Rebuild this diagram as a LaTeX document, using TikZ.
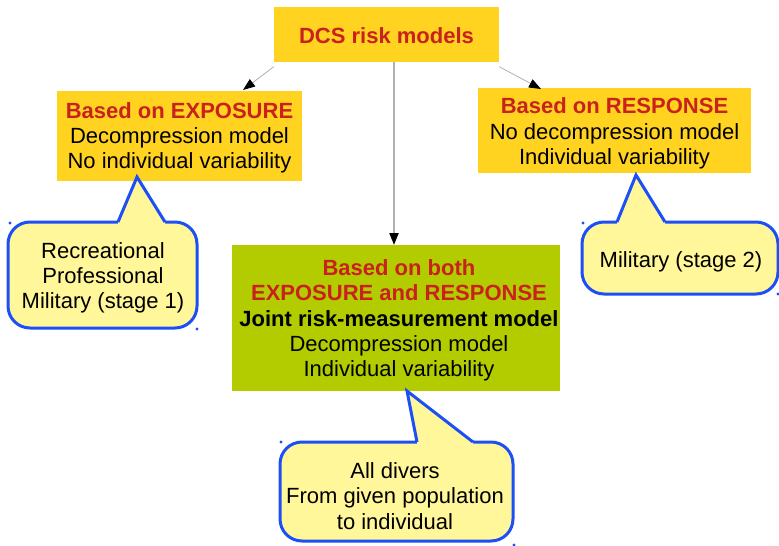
\documentclass[tikz,border=0pt]{standalone}
\usepackage{fontspec}
\setmainfont{Liberation Sans}
\usetikzlibrary{arrows.meta}
\definecolor{boxyellow}{HTML}{FFD320}
\definecolor{boxgreen}{HTML}{B3CC00}
\definecolor{darkred}{HTML}{C9211E}
\definecolor{callfill}{HTML}{FFF799}
\definecolor{callblue}{HTML}{1C4FF5}
\definecolor{conngray}{HTML}{B0B0B0}
\begin{document}
\begin{tikzpicture}[x=1pt,y=-1pt,
  txt/.style={font=\fontsize{22}{25.2}\selectfont, align=center, inner sep=0pt},
  ybox/.style={fill=boxyellow, draw=none, inner sep=0pt},
  gbox/.style={fill=boxgreen, draw=none, inner sep=0pt},
  conn/.style={draw=conngray, line width=0.8pt, -{Triangle[length=12pt,width=9pt,color=black]}},
  cbody/.style={fill=callfill, draw=callblue, line width=3pt, rounded corners=22pt},
  cedge/.style={draw=callblue, line width=3pt, line join=miter},
  handle/.style={fill=callblue}
]
\useasboundingbox (0,0) rectangle (779,546);

% boxes
\node[ybox, minimum width=225pt, minimum height=55pt] (top) at (386.5,34) {};
\node[txt] (toptxt) at ([yshift=-1.5pt]top.center)
  {\textcolor{darkred}{\bfseries DCS risk models}};
\node[ybox, minimum width=245pt, minimum height=90pt] (left) at (179.5,135.5) {};
\node[txt] (lefttxt) at ([yshift=-2.5pt]left.center)
  {\textcolor{darkred}{\bfseries Based on EXPOSURE}\\Decompression model\\No individual variability};
\node[ybox, minimum width=273pt, minimum height=85pt] (right) at (614.5,130.5) {};
\node[txt] (righttxt) at ([yshift=-3pt]right.center)
  {\textcolor{darkred}{\bfseries Based on RESPONSE}\\No decompression model\\Individual variability};
\node[gbox, minimum width=328pt, minimum height=146pt] (mid) at (396,318) {};
\node[txt] (midtxt) at ([xshift=3pt,yshift=-2.5pt]mid.center)
  {\textcolor{darkred}{\bfseries Based on both}\\\textcolor{darkred}{\bfseries EXPOSURE and RESPONSE}\\{\bfseries Joint risk-measurement model}\\Decompression model\\Individual variability};

% connectors
\coordinate (lt) at (243,90);
\coordinate (rt) at (541,89);
\coordinate (ms) at (394,62);
\coordinate (me) at (394,245);
\draw[conn] ([yshift=-5pt]top.south west) -- (lt);
\draw[conn] ([yshift=-5pt]top.south east) -- (rt);
\draw[conn, line width=2pt] (ms) -- (me);

% callout 1 (left)
\draw[cbody] (8,222) rectangle (197,328);
\fill[callfill] (118,222) -- (137,177) -- (165,222) -- (165,226) -- (118,226) -- cycle;
\draw[cedge] (118,222) -- (137,177) -- (165,222);
\node[txt] (c1) at (103,278) {Recreational\\Professional\\Military (stage 1)};
\fill[handle] (10,223) circle (1.6);
\fill[handle] (197,329) circle (1.6);

% callout 2 (right)
\draw[cbody] (582,222) rectangle (778,294);
\fill[callfill] (617,222) -- (636,175) -- (665,222) -- (665,226) -- (617,226) -- cycle;
\draw[cedge] (617,222) -- (636,175) -- (665,222);
\node[txt] (c2) at (681,261.5) {Military (stage 2)};
\fill[handle] (583,223) circle (1.6);
\fill[handle] (778,294) circle (1.6);

% callout 3 (bottom)
\draw[cbody] (280,442) rectangle (513,541);
\fill[callfill] (417,442) -- (407,391) -- (473,442) -- (473,446) -- (417,446) -- cycle;
\draw[cedge] (417,442) -- (407,391) -- (473,442);
\node[txt] (c3) at (395,496) {All divers\\From given population\\to individual};
\fill[handle] (281,442) circle (1.6);
\fill[handle] (514,545) circle (1.6);
\end{tikzpicture}
\end{document}
